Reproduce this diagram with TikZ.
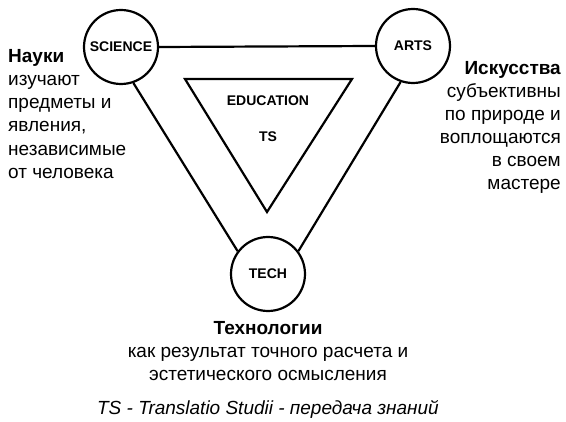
\documentclass[tikz,border=0pt]{standalone}
\usepackage{fontspec}
\setmainfont{Liberation Sans}
\begin{document}
\begin{tikzpicture}[x=1pt,y=-1pt,
  hub/.style={circle,draw=black,line width=2.2pt,fill=white,minimum size=74pt,inner sep=0pt,
    font=\fontsize{14}{16}\selectfont\bfseries},
  link/.style={line width=2.2pt},
  lbl/.style={inner sep=0pt,font=\fontsize{14}{16}\selectfont\bfseries},
  txt/.style={inner sep=0pt,font=\fontsize{19}{23}\selectfont},
  ttl/.style={inner sep=0pt,font=\fontsize{19}{23}\selectfont\bfseries}]
\useasboundingbox (0,0) rectangle (566,422);
% circles
\node[hub] (sci) at (121,47) {SCIENCE};
\node[hub] (arts) at (413,46) {ARTS};
\node[hub] (tech) at (268,274) {TECH};
% connectors
\draw[link] (sci.east) -- (arts.west);
\draw[link] (sci.-71) -- (tech.143);
\draw[link] (arts.-109) -- (tech.37);
% inner triangle
\coordinate (t1) at (185,79);
\coordinate (t2) at (352,79);
\coordinate (t3) at (267,212);
\draw[link,line join=miter] (t1) -- (t2) -- (t3) -- cycle;
\node[lbl] (edu) at (268,101) {EDUCATION};
\node[lbl] (ts) at (268,137) {TS};
% left text
\node[ttl,anchor=base west] (l1) at (8,63) {Науки};
\node[txt,anchor=base west] (l2) at (8,86) {изучают};
\node[txt,anchor=base west] (l3) at (8,109) {предметы и};
\node[txt,anchor=base west] (l4) at (8,132) {явления,};
\node[txt,anchor=base west] (l5) at (8,156) {независимые};
\node[txt,anchor=base west] (l6) at (8,179) {от человека};
% right text
\node[ttl,anchor=base east] (r1) at (561,75) {Искусства};
\node[txt,anchor=base east] (r2) at (561,98) {субъективны};
\node[txt,anchor=base east] (r3) at (561,121) {по природе и};
\node[txt,anchor=base east] (r4) at (561,144) {воплощаются};
\node[txt,anchor=base east] (r5) at (561,167) {в своем};
\node[txt,anchor=base east] (r6) at (561,190) {мастере};
% bottom text
\node[ttl,anchor=base] (b1) at (268,335) {Технологии};
\node[txt,anchor=base] (b2) at (268,358) {как результат точного расчета и};
\node[txt,anchor=base] (b3) at (268,381) {эстетического осмысления};
\node[txt,anchor=base,font=\fontsize{19}{23}\selectfont\itshape] (b4) at (268,415) {TS - Translatio Studii - передача знаний};
\end{tikzpicture}
\end{document}
